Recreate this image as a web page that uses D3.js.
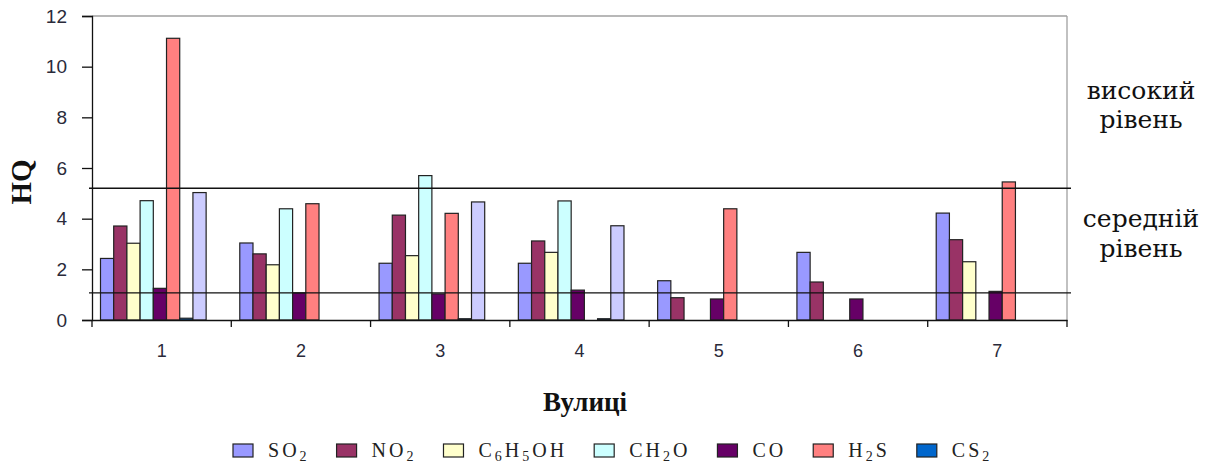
<!DOCTYPE html>
<html>
<head>
<meta charset="utf-8">
<script src="https://cdn.jsdelivr.net/npm/d3@7"></script>
<style>
  html, body { margin: 0; padding: 0; background: #fff; }
  svg { display: block; }
</style>
</head>
<body>
<svg id="chart" width="1211" height="466"></svg>
<script>
// ---- data ----
const categories = ["1", "2", "3", "4", "5", "6", "7"];
const seriesNames = ["SO2", "NO2", "C6H5OH", "CH2O", "CO", "H2S", "CS2", "extra"];
const legendNames = ["SO2", "NO2", "C6H5OH", "CH2O", "CO", "H2S", "CS2"];
const SO2    = [2.43, 3.04, 2.24, 2.24, 1.55, 2.67, 4.22];
const NO2    = [3.71, 2.61, 4.14, 3.12, 0.88, 1.50, 3.17];
const C6H5OH = [3.03, 2.18, 2.54, 2.67, 0, 0, 2.30];
const CH2O   = [4.71, 4.39, 5.70, 4.70, 0, 0, 0];
const CO     = [1.25, 1.07, 1.03, 1.18, 0.83, 0.83, 1.13];
const H2S    = [11.12, 4.59, 4.21, 0, 4.39, 0, 5.45];
const CS2    = [0.07, 0, 0.05, 0.05, 0, 0, 0];
const extra  = [5.03, 0, 4.66, 3.72, 0, 0, 0];
const yTicks = [0, 2, 4, 6, 8, 10, 12];
const levelLines = [5.2, 1.07];
const levelLabels = [["високий", "рівень"], ["середній", "рівень"]];
const yTitle = "HQ";
const xTitle = "Вулиці";

const seriesValues = { SO2, NO2, C6H5OH, CH2O, CO, H2S, CS2, extra };
const colors = {
  SO2: "#9999FF", NO2: "#993366", C6H5OH: "#FFFFCC", CH2O: "#CCFFFF",
  CO: "#660066", H2S: "#FF8080", CS2: "#0066CC", extra: "#CCCCFF"
};
const serif = "'Liberation Serif', 'Times New Roman', 'DejaVu Serif', serif";

// ---- layout ----
const svg = d3.select("#chart");
const m = { left: 92, top: 16, right: 1067, bottom: 320 };

const x0 = d3.scaleBand().domain(categories).range([m.left, m.right]).padding(0);
const gw = x0.bandwidth();
const x1 = d3.scaleBand().domain(seriesNames)
  .range([gw * 0.061, gw * 0.061 + 8 * gw * 0.0948]).padding(0);
const y = d3.scaleLinear().domain([0, 12]).range([m.bottom, m.top]);

// plot frame (top & right gray)
svg.append("line").attr("x1", m.left).attr("x2", m.right).attr("y1", m.top).attr("y2", m.top)
  .attr("stroke", "#a0a0a0").attr("stroke-width", 1.3);
svg.append("line").attr("x1", m.right).attr("x2", m.right).attr("y1", m.top).attr("y2", m.bottom)
  .attr("stroke", "#a0a0a0").attr("stroke-width", 1.3);

// bars
const flat = [];
categories.forEach((c, i) => {
  seriesNames.forEach(s => {
    const v = seriesValues[s][i];
    if (v > 0) flat.push({ c, s, v });
  });
});
svg.append("g").selectAll("rect").data(flat).join("rect")
  .attr("x", d => x0(d.c) + x1(d.s))
  .attr("width", x1.bandwidth())
  .attr("y", d => y(d.v))
  .attr("height", d => y(0) - y(d.v))
  .attr("fill", d => colors[d.s])
  .attr("stroke", "#222")
  .attr("stroke-width", 1.2);

// level lines
svg.append("g").selectAll("line").data(levelLines).join("line")
  .attr("x1", m.left - 3).attr("x2", m.right + 4)
  .attr("y1", d => y(d)).attr("y2", d => y(d))
  .attr("stroke", "#111").attr("stroke-width", 1.4);

// y axis
const yAxis = d3.axisLeft(y).tickValues(yTicks).tickSize(10).tickPadding(15).tickFormat(d3.format("d"));
const gy = svg.append("g").attr("transform", `translate(${m.left},0)`).call(yAxis);
gy.select(".domain").attr("stroke", "#111").attr("stroke-width", 1.3);
gy.selectAll(".tick line").attr("stroke", "#111").attr("stroke-width", 1.3);
gy.selectAll(".tick text").attr("font-family", "'Liberation Sans', Arial, sans-serif")
  .attr("font-size", 19).attr("fill", "#2a2a3a");

// x axis
const xAxis = d3.axisBottom(x0).tickSize(0).tickPadding(24);
const gx = svg.append("g").attr("transform", `translate(0,${m.bottom})`).call(xAxis);
gx.select(".domain").attr("stroke", "#111").attr("stroke-width", 1.3);
gx.selectAll(".tick text").attr("font-family", "'Liberation Sans', Arial, sans-serif")
  .attr("font-size", 18).attr("fill", "#2a2a3a");
// boundary ticks
const bounds = categories.map(c => x0(c)).concat([m.right]);
gx.append("g").selectAll("line").data(bounds).join("line")
  .attr("x1", d => d).attr("x2", d => d).attr("y1", 0).attr("y2", 7)
  .attr("stroke", "#111").attr("stroke-width", 1.3);

// titles
svg.append("text").attr("transform", `translate(31,182) rotate(-90)`)
  .attr("text-anchor", "middle")
  .style("font-family", serif)
  .attr("font-weight", "bold").attr("font-size", 29).attr("fill", "#111")
  .text(yTitle);
svg.append("text").attr("x", 585).attr("y", 411)
  .attr("text-anchor", "middle")
  .style("font-family", serif)
  .attr("font-weight", "bold").attr("font-size", 27).attr("fill", "#111")
  .text(xTitle);

// level labels
const lblY = [[99, 128], [227, 257]];
levelLabels.forEach((lines, i) => {
  lines.forEach((t, j) => {
    svg.append("text").attr("x", 1141).attr("y", lblY[i][j])
      .attr("text-anchor", "middle")
      .style("font-family", "'DejaVu Serif', serif")
      .attr("font-size", 25).attr("fill", "#111")
      .text(t);
  });
});

// legend
const lg = svg.append("g");
let lx = 233;
legendNames.forEach(name => {
  lg.append("rect").attr("x", lx).attr("y", 444).attr("width", 20).attr("height", 13)
    .attr("fill", colors[name]).attr("stroke", "#222").attr("stroke-width", 1.2);
  const t = lg.append("text").attr("x", lx + 35).attr("y", 457)
    .style("font-family", serif)
    .attr("font-size", 20).attr("fill", "#222").attr("letter-spacing", 3);
  let sub = false;
  for (const ch of name) {
    const isDigit = /[0-9]/.test(ch);
    const ts = t.append("tspan").text(ch);
    if (isDigit && !sub) { ts.attr("font-size", 14).attr("dy", 4); sub = true; }
    else if (isDigit && sub) { ts.attr("font-size", 14); }
    else if (!isDigit && sub) { ts.attr("dy", -4); sub = false; }
  }
  const w = t.node().getComputedTextLength();
  lx += 35 + w + 27;
});
</script>
</body>
</html>
